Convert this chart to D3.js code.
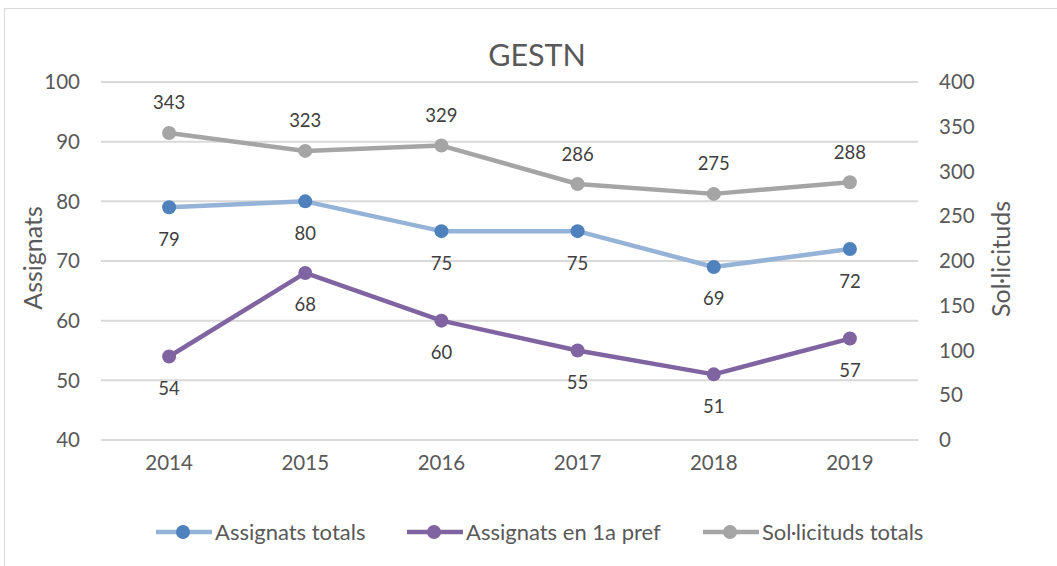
<!DOCTYPE html>
<meta charset="utf-8">
<style>
body { margin: 0; background: #fff; }
text { font-family: Lato, "Open Sans", sans-serif; fill: #595959; }
.grid line { stroke: #d9d9d9; stroke-width: 2px; }
.lbl { fill: #404040; font-size: 18.5px; }
</style>
<svg width="1057" height="566"></svg>
<script src="https://d3js.org/d3.v7.min.js"></script>
<script>
var years = ["2014", "2015", "2016", "2017", "2018", "2019"];
var assignatsTotals = [79, 80, 75, 75, 69, 72];
var assignats1aPref = [54, 68, 60, 55, 51, 57];
var solTotals = [343, 323, 329, 286, 275, 288];
var leftTicks = [40, 50, 60, 70, 80, 90, 100];
var rightTicks = [0, 50, 100, 150, 200, 250, 300, 350, 400];

var svg = d3.select("svg");

// chart frame
svg.append("rect").attr("x", 4.5).attr("y", 8.5).attr("width", 1060).attr("height", 600)
    .attr("fill", "#fff").attr("stroke", "#d9d9d9").attr("stroke-width", 1);

var x = d3.scaleBand().domain(years).range([101, 918]);
var yL = d3.scaleLinear().domain([40, 100]).range([440, 82]);
var yR = d3.scaleLinear().domain([0, 400]).range([440, 82]);

svg.append("g").attr("class", "grid").selectAll("line")
    .data(leftTicks).enter().append("line")
    .attr("x1", 101).attr("x2", 918)
    .attr("y1", function(d) { return yL(d); })
    .attr("y2", function(d) { return yL(d); });

svg.append("g").selectAll("text").data(leftTicks).enter().append("text")
    .attr("x", 80).attr("y", function(d) { return yL(d); })
    .attr("dy", "0.35em").attr("text-anchor", "end").attr("font-size", 20.5)
    .text(function(d) { return d; });

svg.append("g").selectAll("text").data(rightTicks).enter().append("text")
    .attr("x", 939).attr("y", function(d) { return yR(d); })
    .attr("dy", "0.35em").attr("text-anchor", "start").attr("font-size", 20.5)
    .text(function(d) { return d; });

svg.append("g").selectAll("text").data(years).enter().append("text")
    .attr("x", function(d) { return x(d) + x.bandwidth() / 2; }).attr("y", 470)
    .attr("text-anchor", "middle").attr("font-size", 20.5)
    .text(function(d) { return d; });

svg.append("text").attr("x", 537).attr("y", 55).attr("dy", "0.35em")
    .attr("text-anchor", "middle").attr("font-size", 30.5).text("GESTN");

svg.append("text").attr("transform", "translate(33,258) rotate(-90)").attr("dy", "0.35em")
    .attr("text-anchor", "middle").attr("font-size", 25).text("Assignats");
svg.append("text").attr("transform", "translate(1001,259) rotate(-90)").attr("dy", "0.35em")
    .attr("text-anchor", "middle").attr("font-size", 25).text("Sol·licituds");

var series = [
  { name: "Assignats totals", values: assignatsTotals, y: yL, line: "#95b3d7", mark: "#4f81bd", dy: 32 },
  { name: "Assignats en 1a pref", values: assignats1aPref, y: yL, line: "#8064a2", mark: "#8064a2", dy: 32 },
  { name: "Sol·licituds totals", values: solTotals, y: yR, line: "#a5a5a5", mark: "#a5a5a5", dy: -30 }
];

series.forEach(function(s) {
  var pts = s.values.map(function(v, i) { return [x(years[i]) + x.bandwidth() / 2, s.y(v), v]; });
  svg.append("path").attr("d", d3.line()(pts.map(function(p) { return [p[0], p[1]]; })))
    .attr("fill", "none").attr("stroke", s.line).attr("stroke-width", 4.5).attr("stroke-linejoin", "round");
  svg.append("g").selectAll("circle").data(pts).enter().append("circle")
    .attr("cx", function(p) { return p[0]; }).attr("cy", function(p) { return p[1]; })
    .attr("r", 7).attr("fill", s.mark);
  svg.append("g").selectAll("text").data(pts).enter().append("text").attr("class", "lbl")
    .attr("x", function(p) { return p[0]; }).attr("y", function(p) { return p[1] + s.dy; })
    .attr("dy", "0.35em").attr("text-anchor", "middle")
    .text(function(p) { return p[2]; });
});

// legend
var legX = [156, 407, 703];
series.forEach(function(s, i) {
  var g = svg.append("g").attr("transform", "translate(" + legX[i] + ",532)");
  g.append("line").attr("x1", 0).attr("x2", 56).attr("stroke", s.line).attr("stroke-width", 4.5);
  g.append("circle").attr("cx", 27).attr("r", 7).attr("fill", s.mark);
  g.append("text").attr("x", 59).attr("dy", "0.35em").attr("font-size", 22).text(s.name);
});
</script>
